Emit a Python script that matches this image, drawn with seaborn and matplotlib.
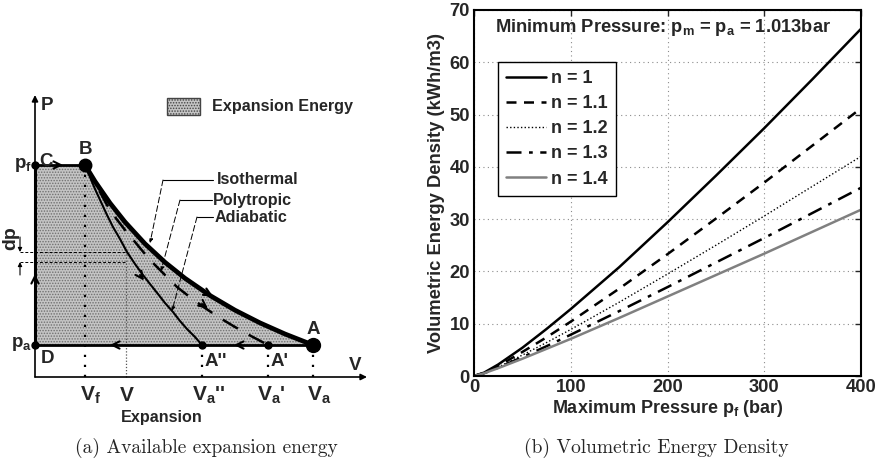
import numpy as np
import pandas as pd
import matplotlib
matplotlib.use("Agg")
import matplotlib.pyplot as plt
from matplotlib.patches import Rectangle
import seaborn as sns

# ---------------- (b) volumetric energy density ----------------
p_max = [0, 10, 25, 50, 75, 100, 150, 200, 250, 300, 350, 400]          # bar
e_n10 = [0, 0.6, 2.2, 5.4, 9.0, 12.8, 20.8, 29.4, 38.3, 47.4, 56.8, 66.4]  # kWh/m3
e_n11 = [0, 0.6, 1.9, 4.6, 7.4, 10.4, 16.7, 23.3, 30.1, 37.0, 44.1, 51.2]
e_n12 = [0, 0.5, 1.7, 4.0, 6.4, 8.9, 14.1, 19.5, 25.0, 30.6, 36.3, 42.0]
e_n13 = [0, 0.5, 1.6, 3.6, 5.7, 7.9, 12.4, 17.0, 21.7, 26.4, 31.2, 36.0]
e_n14 = [0, 0.5, 1.5, 3.3, 5.2, 7.1, 11.1, 15.2, 19.3, 23.4, 27.6, 31.8]
series_labels = ["n = 1", "n = 1.1", "n = 1.2", "n = 1.3", "n = 1.4"]
x_ticks = [0, 100, 200, 300, 400]
y_ticks = [0, 10, 20, 30, 40, 50, 60, 70]

# ---------------- (a) p-V diagram (schematic units) ----------------
p_f, p_a = 212, 32
v_f, v_mid, v_a2, v_a1, v_a = 50, 91, 167, 233, 278
dp_levels = [125, 115]
iso_v = [50, 60, 75, 90, 110, 130, 150, 175, 200, 225, 250, 278]
iso_p = [212, 195.6, 173.9, 155.0, 133.2, 114.7, 98.7, 81.5, 66.8, 54.1, 43.0, 32]
poly_v = [50, 58, 65, 72, 80, 90, 100, 110, 120, 131, 142, 156, 170, 185, 200, 216, 233]
poly_p = [212, 197, 185, 172, 160, 147, 135, 123, 112, 101, 90, 79, 69, 59, 50, 41, 32]
adi_v = [50, 55, 60, 66, 72, 78, 85, 92, 100, 108, 115, 123, 130, 138, 145, 152, 160, 167]
adi_p = [212, 200, 188, 175, 162, 150, 138, 125, 113, 102, 93, 83, 74, 65, 56, 48, 40, 32]

sns.set_style("white")
plt.rcParams["font.family"] = ["Liberation Sans", "DejaVu Sans"]
plt.rcParams["font.weight"] = "bold"
plt.rcParams["mathtext.fontset"] = "custom"
plt.rcParams["mathtext.rm"] = "Liberation Sans:bold"
plt.rcParams["mathtext.it"] = "Liberation Sans:bold"
plt.rcParams["mathtext.bf"] = "Liberation Sans:bold"
plt.rcParams["mathtext.default"] = "rm"
plt.rcParams["hatch.linewidth"] = 0.7

SHADE = "#c4c4c4"
HATCH_EDGE = "#707070"

fig = plt.figure(figsize=(8.81, 4.65), dpi=100)

# ======================= panel (a) =======================
axa = fig.add_axes([0, 0, 440 / 881, 1])
axa.set_xlim(-35, 405)
axa.set_ylim(-88, 377)
axa.axis("off")

fill_v = [0] + iso_v
fill_p = [p_f] + iso_p
axa.fill_between(fill_v, p_a, fill_p, facecolor=SHADE, hatch="......",
                 edgecolor=HATCH_EDGE, linewidth=0, zorder=1)

# coordinate axes
axa.annotate("", xy=(0, 282), xytext=(0, 0),
             arrowprops=dict(arrowstyle="-|>", lw=1.2, color="k",
                             mutation_scale=9, shrinkA=0, shrinkB=0))
axa.annotate("", xy=(332, 0), xytext=(0, 0),
             arrowprops=dict(arrowstyle="-|>", lw=1.2, color="k",
                             mutation_scale=9, shrinkA=0, shrinkB=0))

# cycle boundary
axa.plot([0, 0], [p_a, p_f], color="k", lw=2.2, zorder=3)
axa.plot([0, v_f], [p_f, p_f], color="k", lw=2.0, zorder=3)
axa.plot([0, v_a], [p_a, p_a], color="k", lw=2.0, zorder=3)

# expansion curves
sns.lineplot(x=iso_v, y=iso_p, ax=axa, color="k", lw=3.4, sort=False, zorder=4)
sns.lineplot(x=poly_v, y=poly_p, ax=axa, color="k", lw=1.8, sort=False,
             zorder=4).lines[-1].set_dashes([7, 5])
sns.lineplot(x=adi_v, y=adi_p, ax=axa, color="k", lw=1.5, sort=False, zorder=4)

# dotted guides
axa.plot([v_f, v_f], [0, p_f], color="k", lw=1.6, ls=(0, (1, 3.5)), zorder=2)
for vv in (v_a2, v_a1, v_a):
    axa.plot([vv, vv], [0, p_a], color="k", lw=1.6, ls=(0, (1, 3.5)), zorder=2)
axa.plot([v_mid, v_mid], [0, dp_levels[0]], color="#555555", lw=0.9,
         ls=(0, (1, 1.5)), zorder=2)
for lvl in dp_levels:
    axa.plot([-15, v_mid], [lvl, lvl], color="k", lw=0.7, ls=(0, (3, 2)), zorder=2)

# dp markers
axa.annotate("", xy=(-15, dp_levels[0]), xytext=(-15, 140),
             arrowprops=dict(arrowstyle="-|>", lw=0.8, color="k",
                             mutation_scale=6, shrinkA=0, shrinkB=0))
axa.annotate("", xy=(-15, dp_levels[1]), xytext=(-15, 102),
             arrowprops=dict(arrowstyle="-|>", lw=0.8, color="k",
                             mutation_scale=6, shrinkA=0, shrinkB=0))
axa.text(-24, 139, "dp", rotation=90, ha="center", va="center", fontsize=14)


def chevron(ax, x, y, dx, dy, lw=1.5, size=13):
    ax.annotate("", xy=(x + dx, y + dy), xytext=(x, y),
                arrowprops=dict(arrowstyle="->", lw=lw, color="k",
                                mutation_scale=size, shrinkA=0, shrinkB=0),
                zorder=5)


chevron(axa, 22, p_f, 6, 0)
chevron(axa, 0, 95, 0, 8)
chevron(axa, 82, p_a, -7, 0)
chevron(axa, 206, p_a, -7, 0)
chevron(axa, 172, 84, 6, -3.3)
chevron(axa, 167, 73, 6, -4.5)
chevron(axa, 105, 102, 4, -5.6)

# state points
axa.plot([v_f], [p_f], "o", color="k", ms=9, zorder=6)
axa.plot([v_a], [p_a], "o", color="k", ms=10, zorder=6)
axa.plot([0, 0, v_a2, v_a1], [p_f, p_a, p_a, p_a], "o", color="k", ms=5, zorder=6)

# leader lines for the curve names
leaders = [((128, 197), (178, 197), (115, 134)),
           ((145, 177), (177, 177), (126, 106)),
           ((162, 160), (178, 160), (137, 66))]
for start, end, tip in leaders:
    axa.plot([start[0], end[0]], [start[1], end[1]], color="k", lw=0.8)
    axa.annotate("", xy=tip, xytext=start,
                 arrowprops=dict(arrowstyle="-|>", lw=0.7, color="k",
                                 ls=(0, (6, 3)), mutation_scale=6,
                                 shrinkA=0, shrinkB=0))
axa.text(182, 197, "Isothermal", fontsize=11.6, va="center", ha="left")
axa.text(178, 177, "Polytropic", fontsize=11.6, va="center", ha="left")
axa.text(180, 160, "Adiabatic", fontsize=11.6, va="center", ha="left")

# legend swatch
axa.add_patch(Rectangle((132, 262), 33, 17, facecolor=SHADE, hatch="......",
                        edgecolor="#444444", lw=1.0))
axa.text(177, 270, "Expansion Energy", fontsize=11.6, va="center", ha="left")

# point and axis labels
lab = dict(fontsize=13.5, va="center")
axa.text(6, 272, "P", ha="left", **lab)
axa.text(-3, 212, r"$\mathrm{p_f}$", ha="right", **lab)
axa.text(11, 215, "C", ha="center", **lab)
axa.text(51, 228, "B", ha="center", **lab)
axa.text(-3, 33, r"$\mathrm{p_a}$", ha="right", **lab)
axa.text(13, 19, "D", ha="center", **lab)
axa.text(278, 48, "A", ha="center", **lab)
axa.text(170, 16, "A''", ha="left", **lab)
axa.text(236, 16, "A'", ha="left", **lab)
axa.text(320, 12, "V", ha="center", **lab)

tick = dict(fontsize=15, va="center", ha="left")
axa.text(v_f - 5, -18, r"$\mathrm{V_f}$", **tick)
axa.text(v_mid - 6, -18, "V", **tick)
axa.text(v_a2 - 10, -18, r"$\mathrm{V_a}$''", **tick)
axa.text(v_a1 - 11, -18, r"$\mathrm{V_a}$'", **tick)
axa.text(v_a - 6, -18, r"$\mathrm{V_a}$", **tick)
axa.text(127, -40, "Expansion", fontsize=11.6, ha="center", va="center")

# ======================= panel (b) =======================
FS = 13.2
axb = fig.add_axes([474 / 881, 89 / 465, 387 / 881, 366 / 465])
df = pd.DataFrame({"p": p_max * 5,
                   "e": e_n10 + e_n11 + e_n12 + e_n13 + e_n14,
                   "n": sum([[s] * len(p_max) for s in series_labels], [])})
styles = {
    "n = 1": dict(color="k", ls="-", lw=1.8),
    "n = 1.1": dict(color="k", ls=(0, (4, 3)), lw=1.8),
    "n = 1.2": dict(color="k", ls=(0, (1, 1.6)), lw=1.0),
    "n = 1.3": dict(color="k", ls=(0, (6, 3, 1.5, 3)), lw=1.8),
    "n = 1.4": dict(color="#808080", ls="-", lw=1.8),
}
for name in series_labels:
    sub = df[df["n"] == name]
    st = styles[name]
    sns.lineplot(data=sub, x="p", y="e", ax=axb, color=st["color"],
                 lw=st["lw"], label=name)
    axb.lines[-1].set_linestyle(st["ls"])

axb.set_xlim(0, 400)
axb.set_ylim(0, 70)
axb.set_xticks(x_ticks)
axb.set_yticks(y_ticks)
axb.grid(True, color="#8c8c8c", ls=(0, (1, 3)), lw=0.8)
axb.tick_params(direction="in", length=4, width=1, labelsize=FS,
                top=True, right=True)
axb.tick_params(axis="x", pad=2.5)
axb.tick_params(axis="y", pad=3)
for s in axb.spines.values():
    s.set_linewidth(1.5)
    s.set_color("k")
axb.set_xlabel(r"Maximum Pressure $\mathrm{p_f}$ (bar)", fontsize=13,
               fontweight="bold", labelpad=1)
axb.set_ylabel("Volumetric Energy Density (kWh/m3)", fontsize=FS,
               fontweight="bold", labelpad=3)
axb.text(0.054, 0.951, r"Minimum Pressure: $\mathrm{p_m}$ = $\mathrm{p_a}$ = 1.013bar",
         transform=axb.transAxes, fontsize=FS, ha="left", va="center")
leg = axb.legend(loc="upper left", bbox_to_anchor=(0.062, 0.858),
                 borderaxespad=0, fontsize=13, handlelength=2.2,
                 handletextpad=0.3, labelspacing=0.45, fancybox=False,
                 framealpha=1, edgecolor="k", borderpad=0.45)
leg.get_frame().set_linewidth(1.0)
for h, name in zip(leg.get_lines(), series_labels):
    h.set_linestyle(styles[name]["ls"])

# captions
cap = dict(fontsize=14, family="cmr10", ha="center", va="center")
fig.text(206 / 881, 1 - 448 / 465, "(a) Available expansion energy", **cap)
fig.text(656 / 881, 1 - 448 / 465, "(b) Volumetric Energy Density", **cap)

fig.savefig("out.png", dpi=100)
